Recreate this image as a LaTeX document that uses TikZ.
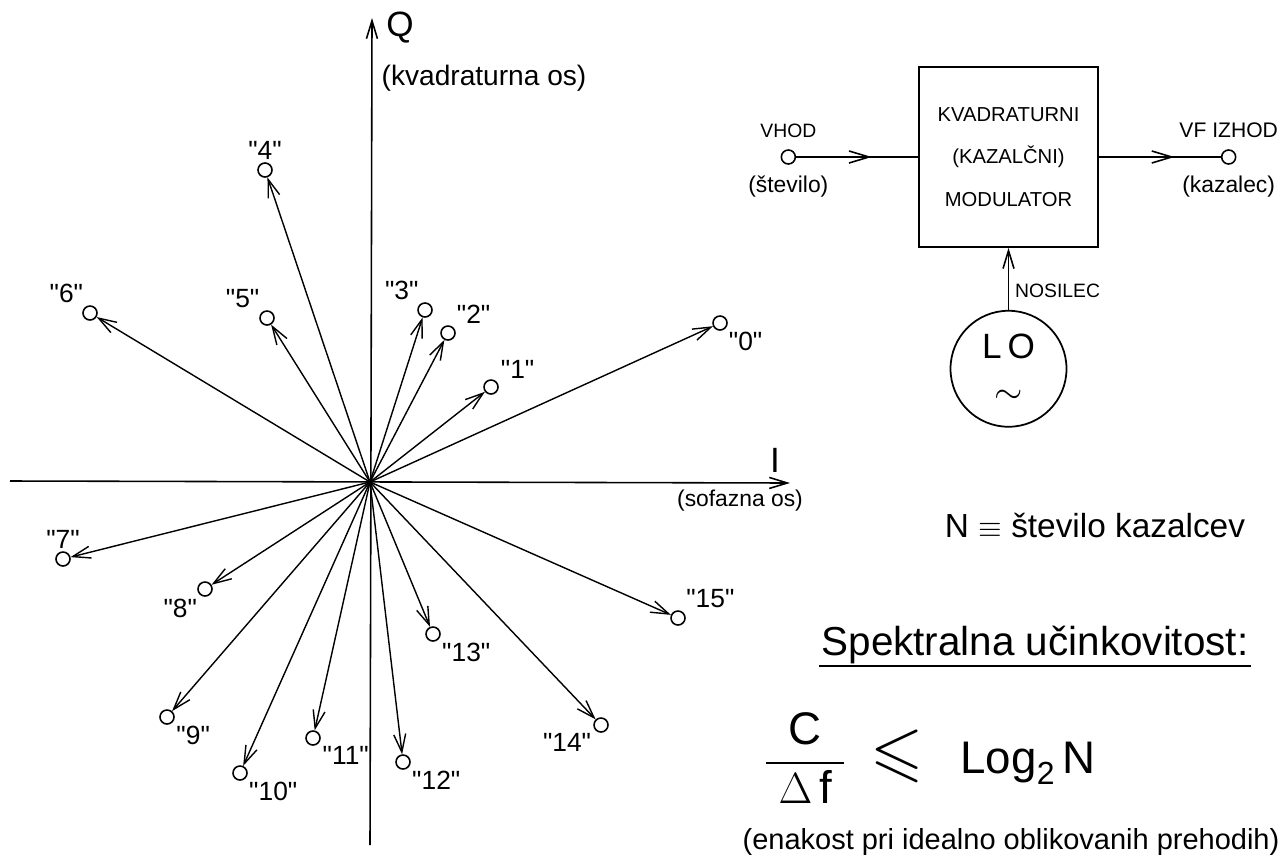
\documentclass[tikz,border=0pt]{standalone}
\usepackage{amsmath,amssymb}
\usepackage{fontspec}
\setmainfont{Liberation Sans}[Ligatures=TeXOff]
\usetikzlibrary{arrows.meta,decorations.markings,positioning}

\tikzset{
  vec/.style={line width=0.8pt,-{Straight Barb[length=3.6mm,width=2.4mm]}},
  axis/.style={line width=0.9pt,-{Straight Barb[length=3.6mm,width=2.2mm]}},
  pt/.style={circle,draw,line width=0.9pt,minimum size=0.28cm,inner sep=0pt},
  port/.style={circle,draw,line width=0.9pt,minimum size=0.28cm,inner sep=0pt},
  modbox/.style={draw,line width=1pt,minimum width=3.58cm,minimum height=3.6cm,
    align=center,font=\fontsize{11.5}{24}\selectfont},
  osc/.style={circle,draw,line width=1pt,minimum size=2.32cm,inner sep=0pt,
    align=center,font=\fontsize{20}{26}\selectfont},
  midarrow/.style={line width=0.9pt,postaction={decorate},
    decoration={markings,mark=at position #1 with {\arrow{Straight Barb[length=4mm,width=2.4mm]}}}},
  capfont/.style={font=\fontsize{11}{13}\selectfont},
  smallfont/.style={font=\fontsize{13}{15}\selectfont}
}

\begin{document}
\begin{tikzpicture}[every label/.style={font=\fontsize{15}{17}\selectfont,label distance=-2pt}]
      \useasboundingbox (0,0) rectangle (25.76,-17.26);
      % I/Q axes
      \coordinate (O) at (7.40,-9.64);
      \coordinate (Ilow) at (0.20,-9.62);
      \coordinate (Iend) at (15.80,-9.66);
      \coordinate (Qlow) at (7.40,-16.90);
      \coordinate (Qend) at (7.44,-0.36);
      \draw[axis] (Ilow) -- (Iend);
      \draw[axis] (Qlow) -- (Qend);
      \node[font=\fontsize{20}{22}\selectfont] (qlab) at (8.00,-0.56) {Q};
      \node[font=\fontsize{16}{18}\selectfont] (qtxt) at (9.68,-1.56) {(kvadraturna os)};
      \node[font=\fontsize{20}{22}\selectfont] (ilab) at (15.50,-9.20) {I};
      \node[font=\fontsize{13}{15}\selectfont] (itxt) at (14.80,-10.02) {(sofazna os)};
      % constellation points
      \node[pt,label={-50:"0"}] (p0) at (14.40,-6.46) {};
      \node[pt,label={30:"1"}] (p1) at (9.82,-7.74) {};
      \node[pt,label={50:"2"}] (p2) at (8.96,-6.66) {};
      \node[pt,label={95:"3"}] (p3) at (8.50,-6.20) {};
      \node[pt,label={90:"4"}] (p4) at (5.30,-3.40) {};
      \node[pt,label={110:"5"}] (p5) at (5.34,-6.36) {};
      \node[pt,label={100:"6"}] (p6) at (1.80,-6.26) {};
      \node[pt,label={90:"7"}] (p7) at (1.26,-11.18) {};
      \node[pt,label={-115:"8"}] (p8) at (4.10,-11.78) {};
      \node[pt,label={-40:"9"}] (p9) at (3.34,-14.34) {};
      \node[pt,label={-45:"10"}] (p10) at (4.80,-15.46) {};
      \node[pt,label={-35:"11"}] (p11) at (6.26,-14.76) {};
      \node[pt,label={-45:"12"}] (p12) at (8.06,-15.24) {};
      \node[pt,label={-45:"13"}] (p13) at (8.66,-12.68) {};
      \node[pt,label={-150:"14"}] (p14) at (12.02,-14.50) {};
      \node[pt,label={60:"15"}] (p15) at (13.56,-12.36) {};
      \draw[vec] (O) -- (p0);
      \draw[vec] (O) -- (p1);
      \draw[vec] (O) -- (p2);
      \draw[vec] (O) -- (p3);
      \draw[vec] (O) -- (p4);
      \draw[vec] (O) -- (p5);
      \draw[vec] (O) -- (p6);
      \draw[vec] (O) -- (p7);
      \draw[vec] (O) -- (p8);
      \draw[vec] (O) -- (p9);
      \draw[vec] (O) -- (p10);
      \draw[vec] (O) -- (p11);
      \draw[vec] (O) -- (p12);
      \draw[vec] (O) -- (p13);
      \draw[vec] (O) -- (p14);
      \draw[vec] (O) -- (p15);
      % modulator block
      \node[modbox] (mod) at (20.17,-3.14) {KVADRATURNI\\(KAZALČNI)\\MODULATOR};
      \node[port,left=2.44cm of mod,
        label={[capfont,label distance=3pt]above:VHOD},
        label={[smallfont,label distance=3pt]below:(število)}] (vin) {};
      \node[port,right=2.44cm of mod,
        label={[font=\fontsize{12}{14}\selectfont,label distance=3pt]above:VF IZHOD},
        label={[smallfont,label distance=3pt]below:(kazalec)}] (vout) {};
      \node[osc,below=1.24cm of mod] (lo) {L\,O\\$\sim$};
      \draw[midarrow=0.62] (vin) -- (mod);
      \draw[midarrow=0.62] (mod) -- (vout);
      \draw[line width=0.9pt,-{Straight Barb[length=3.6mm,width=2.2mm]}] (lo) --
        node[pos=0.3,right,capfont] (nos) {NOSILEC} (mod);
      % notes
      \node[font=\fontsize{19}{22}\selectfont] (ndef) at (21.90,-10.50)
      {N $\equiv$ število kazalcev};
      \node[font=\fontsize{23}{26}\selectfont,inner sep=1pt] (spek) at (20.70,-12.90)
      {Spektralna učinkovitost:};
      \draw[line width=0.8pt] (spek.south west) -- (spek.south east);
      \node[font=\fontsize{26}{30}\selectfont] (frm) at (18.60,-15.16)
      {$\dfrac{\text{C}}{\;\Delta\,\text{f}\;}\;\mathrel{\scalebox{1.5}{$\leqslant$}}\;\;\text{Log}_{\text{2}}\,\text{N}$};
      \node[font=\fontsize{16.5}{19}\selectfont] (note) at (20.22,-16.84)
      {(enakost pri idealno oblikovanih prehodih)};
    \end{tikzpicture}
\end{document}
